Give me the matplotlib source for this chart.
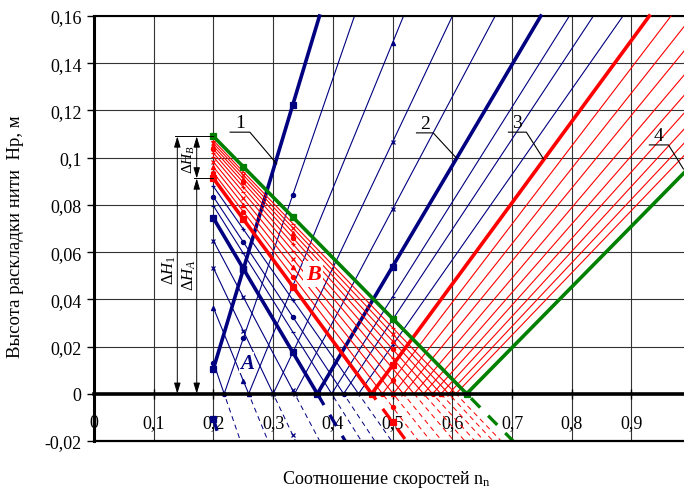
import numpy as np
import matplotlib.pyplot as plt
from matplotlib.patches import Rectangle

plt.rcParams.update({
    'font.family': 'Liberation Serif',
    'font.size': 13,
    'mathtext.fontset': 'custom',
    'mathtext.rm': 'Liberation Serif',
    'mathtext.it': 'Liberation Serif:italic',
    'mathtext.bf': 'Liberation Serif:bold',
})

# speed-ratio columns where each series carries markers
marker_cols = [0.2, 0.25, 0.333, 0.5]
n_start = 0.2

# family A (blue): vertex on the n axis and height at n = 0.2
blue_x0 = [0.1874, 0.218, 0.259, 0.300, 0.336, 0.374, 0.398, 0.418, 0.443]
blue_h0 = [-0.0106, 0.0132, 0.0364, 0.0533, 0.0648, 0.0744, 0.0796, 0.0834, 0.0878]
blue_thick = [True, False, False, False, False, True, False, False, False]
blue_mk = ['s', 'o', '^', 'x', 'x', 's', '_', 'o', '+']

# family B (red)
red_x0 = [0.465, 0.483, 0.501, 0.518, 0.536, 0.552, 0.567, 0.581, 0.594, 0.606]
red_h0 = [0.0912, 0.0937, 0.0961, 0.0982, 0.1003, 0.1020, 0.1036, 0.1049, 0.1061, 0.1072]
red_thick = [True] + [False] * 9
red_mk = ['s', 'o', '^', 'x', '_', '+', 'o', '^', 'x', '_']

# boundary line 4 (green)
green_x0 = [0.624]
green_h0 = [0.109]

x_ticks = [0, 0.1, 0.2, 0.3, 0.4, 0.5, 0.6, 0.7, 0.8, 0.9]
x_labels = ['0', '0,1', '0,2', '0,3', '0,4', '0,5', '0,6', '0,7', '0,8', '0,9']
y_ticks = [-0.02, 0, 0.02, 0.04, 0.06, 0.08, 0.1, 0.12, 0.14, 0.16]
y_labels = ['-0,02', '0', '0,02', '0,04', '0,06', '0,08', '0,1', '0,12', '0,14', '0,16']

# callouts: label, underline y, underline x span, leader end
call_txt = ['1', '2', '3', '4']
call_uy = [0.1108, 0.1105, 0.1108, 0.1054]
call_ux = [(0.228, 0.261), (0.540, 0.568), (0.694, 0.724), (0.930, 0.962)]
call_end = [(0.306, 0.0974), (0.607, 0.0998), (0.7526, 0.0995), (0.987, 0.0952)]

NAVY = '#000080'
RED = '#FF0000'
GREEN = '#008000'

fig = plt.figure(figsize=(6.84, 4.89), dpi=100)
ax = fig.add_axes([94 / 684, 47 / 489, 590 / 684, 425 / 489])
ax.set_xlim(0, 0.988)
ax.set_ylim(-0.02, 0.16)


def draw_v(x0, h0, color, thick, mk, z):
    lw = 2.6 if thick else 0.8
    dash = (0, (4, 3.5)) if thick else (0, (5, 4))
    k = h0 / (x0 - n_start)
    above = Rectangle((n_start, 0), 1, 0.2, transform=ax.transData)
    below = Rectangle((n_start, -0.05), 1, 0.05, transform=ax.transData)
    down = ax.axline((n_start, h0), (x0, 0), color=color, lw=lw, zorder=z)
    down.set_clip_path(above)
    neg = ax.axline((n_start, h0), (x0, 0), color=color, lw=lw * 0.9,
                    linestyle=dash, zorder=z)
    neg.set_clip_path(below)
    up = ax.axline((x0, 0), slope=k, color=color, lw=lw, zorder=z)
    up.set_clip_path(above)

    # markers where the series meets the data columns
    xs, ys = [], []
    for c in marker_cols:
        yd = -k * (c - x0)
        if -0.02 <= yd <= 0.16:
            xs.append(c); ys.append(yd)
        if c > x0 and k * (c - x0) <= 0.16:
            xs.append(c); ys.append(k * (c - x0))
    if x0 >= n_start:
        xs.append(x0); ys.append(0)
    ms = 4 if mk == 's' else 3
    ax.plot(xs, ys, ls='none', marker=mk, ms=ms, color=color, mec=color,
            mew=0.9, zorder=z + 0.1, clip_on=False)


for x0, h0, th, mk in zip(blue_x0, blue_h0, blue_thick, blue_mk):
    draw_v(x0, h0, NAVY, th, mk, 3 if th else 2)
for x0, h0, th, mk in zip(red_x0, red_h0, red_thick, red_mk):
    draw_v(x0, h0, RED, th, mk, 5 if th else 4)
for x0, h0 in zip(green_x0, green_h0):
    draw_v(x0, h0, GREEN, True, 's', 6)

# axes frame and grid
ax.set_xticks(x_ticks)
ax.set_xticklabels(x_labels)
ax.set_yticks(y_ticks)
ax.set_yticklabels(y_labels)
ax.grid(True, color='#333333', lw=0.8)
ax.set_axisbelow(True)
ax.spines['bottom'].set_position(('data', 0))
ax.spines['bottom'].set_linewidth(2.6)
ax.spines['bottom'].set_zorder(7)
ax.spines['left'].set_linewidth(2.2)
ax.spines['top'].set_linewidth(1.5)
ax.spines['right'].set_visible(False)
ax.axhline(-0.02, color='black', lw=1.6, clip_on=False, zorder=7)
ax.tick_params(axis='x', direction='inout', length=7, width=1, pad=11)
ax.tick_params(axis='y', direction='out', length=5, width=1, pad=4)

ax.set_ylabel('Высота раскладки нити  Нр, м', fontsize=13.5)
ax.yaxis.set_label_coords(-0.118, 0.482)
ax.set_xlabel(r'Соотношение скоростей n$_\mathrm{n}$', fontsize=13)
ax.xaxis.set_label_coords(0.4966, -0.064)

# callouts 1-4
for t, uy, (ux0, ux1), (ex, ey) in zip(call_txt, call_uy, call_ux, call_end):
    ax.plot([ux0, ux1, ex], [uy, uy, ey], color='black', lw=0.8, zorder=8,
            clip_on=False)
    ax.text((ux0 + ux1) / 2, uy + 0.0022, t, ha='center', va='baseline',
            fontsize=14, zorder=8)

# height dimensions on the left
h_top = green_h0[0]
h_mid = red_h0[0]
ax.plot([0.136, n_start], [h_top, h_top], color='black', lw=0.7, zorder=8)
ax.plot([0.168, n_start], [h_mid, h_mid], color='black', lw=0.7, zorder=8)
arr = dict(arrowstyle='<|-|>,head_length=0.5,head_width=0.15', color='black',
           lw=0.7, shrinkA=0, shrinkB=0)
ax.annotate('', xy=(0.1395, 0), xytext=(0.1395, h_top), arrowprops=arr, zorder=8)
ax.annotate('', xy=(0.172, 0), xytext=(0.172, h_mid), arrowprops=arr, zorder=8)
ax.annotate('', xy=(0.172, h_mid), xytext=(0.172, h_top), arrowprops=arr, zorder=8)
ax.text(0.126, 0.053, r'$\Delta H_1$', rotation=90, ha='center', va='center',
        fontsize=12, zorder=8)
ax.text(0.159, 0.0508, r'$\Delta H_A$', rotation=90, ha='center', va='center',
        fontsize=12, zorder=8)
ax.text(0.159, 0.0995, r'$\Delta H_B$', rotation=90, ha='center', va='center',
        fontsize=11, zorder=8)

# family letters
ax.text(0.256, 0.0131, 'A', color=NAVY, fontsize=15, fontweight='bold',
        fontstyle='italic', ha='center', va='center', zorder=8,
        bbox=dict(facecolor='white', edgecolor='none', pad=0.5))
ax.text(0.367, 0.0508, 'B', color=RED, fontsize=16, fontweight='bold',
        fontstyle='italic', ha='center', va='center', zorder=8,
        bbox=dict(facecolor='white', edgecolor='none', pad=2))

fig.savefig('out.png', dpi=100)
